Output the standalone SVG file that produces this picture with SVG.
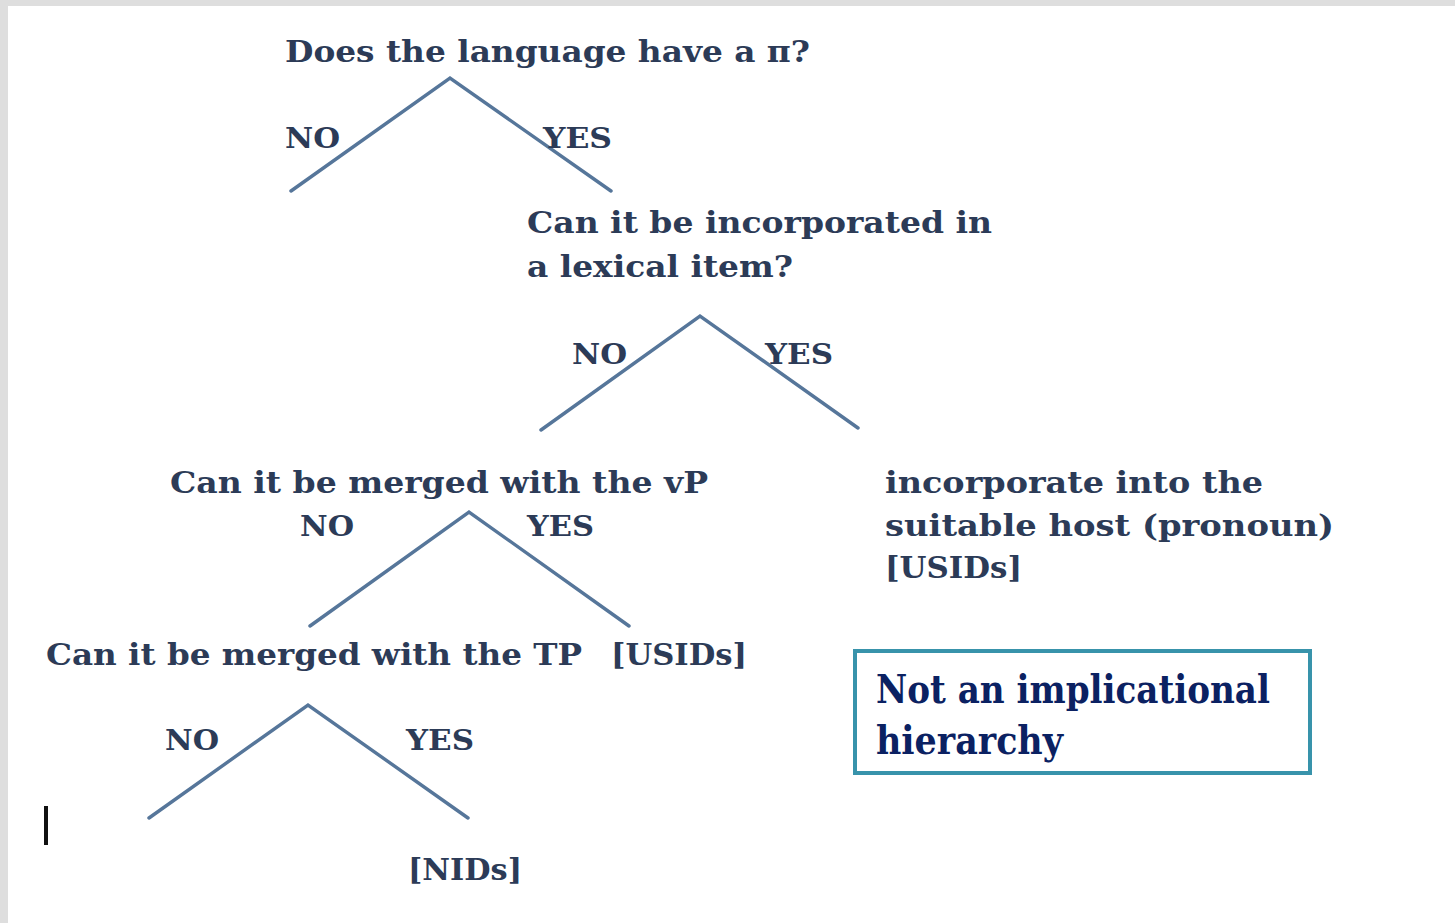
<svg xmlns="http://www.w3.org/2000/svg" width="1455" height="923" viewBox="0 0 1455 923">
  <style>
    .q { font-family: "DejaVu Serif", "Liberation Serif", serif; font-weight: bold; font-size: 29px; fill: #2c3b57; }
    .lbl { font-family: "DejaVu Serif", "Liberation Serif", serif; font-weight: bold; font-size: 28px; fill: #2c3b57; }
    .note { font-family: "DejaVu Serif", "Liberation Serif", serif; font-weight: bold; font-size: 40px; fill: #0b2162; }
    .branch { fill: none; stroke: #56769a; stroke-width: 3.4; stroke-linejoin: miter; stroke-linecap: round; }
  </style>

  <!-- page frame -->
  <rect x="0" y="0" width="1455" height="923" fill="#ffffff"/>
  <rect x="0" y="0" width="1455" height="6" fill="#dedede"/>
  <rect x="0" y="0" width="8" height="923" fill="#dedede"/>

  <!-- branching connectors -->
  <g id="connectors">
    <polyline class="branch" points="291,191 450,78 611,191"/>
    <polyline class="branch" points="541,430 700,316 858,428"/>
    <polyline class="branch" points="310,626 469,512 629,626"/>
    <polyline class="branch" points="149,818 308,705 468,818"/>
  </g>

  <g id="q-pi">
    <text class="q" x="285" y="62" textLength="525" lengthAdjust="spacingAndGlyphs">Does the language have a π?</text>
    <text class="lbl" x="285" y="148" textLength="55" lengthAdjust="spacingAndGlyphs">NO</text>
    <text class="lbl" x="543" y="148" textLength="69" lengthAdjust="spacingAndGlyphs">YES</text>
  </g>

  <g id="q-incorporate">
    <text class="q" x="527" y="233" textLength="465" lengthAdjust="spacingAndGlyphs">Can it be incorporated in</text>
    <text class="q" x="527" y="277" textLength="266" lengthAdjust="spacingAndGlyphs">a lexical item?</text>
    <text class="lbl" x="572" y="364" textLength="55" lengthAdjust="spacingAndGlyphs">NO</text>
    <text class="lbl" x="765" y="364" textLength="68" lengthAdjust="spacingAndGlyphs">YES</text>
  </g>

  <g id="q-vp">
    <text class="q" x="170" y="493" textLength="538" lengthAdjust="spacingAndGlyphs">Can it be merged with the vP</text>
    <text class="lbl" x="300" y="536" textLength="54" lengthAdjust="spacingAndGlyphs">NO</text>
    <text class="lbl" x="527" y="536" textLength="67" lengthAdjust="spacingAndGlyphs">YES</text>
  </g>

  <g id="host">
    <text class="q" x="885" y="493" textLength="378" lengthAdjust="spacingAndGlyphs">incorporate into the</text>
    <text class="q" x="885" y="536" textLength="449" lengthAdjust="spacingAndGlyphs">suitable host (pronoun)</text>
    <text class="q" x="885" y="578" textLength="137" lengthAdjust="spacingAndGlyphs">[USIDs]</text>
  </g>

  <g id="q-tp">
    <text class="q" x="46" y="665" textLength="536" lengthAdjust="spacingAndGlyphs">Can it be merged with the TP</text>
    <text class="lbl" x="165" y="750" textLength="54" lengthAdjust="spacingAndGlyphs">NO</text>
    <text class="lbl" x="406" y="750" textLength="68" lengthAdjust="spacingAndGlyphs">YES</text>
  </g>

  <g id="usids-vp">
    <text class="q" x="611" y="665" textLength="136" lengthAdjust="spacingAndGlyphs">[USIDs]</text>
  </g>

  <g id="nids">
    <text class="q" x="408" y="880" textLength="114" lengthAdjust="spacingAndGlyphs">[NIDs]</text>
  </g>

  <g id="note">
    <rect x="855" y="651" width="455" height="122" fill="#ffffff" stroke="#3893ab" stroke-width="4"/>
    <text class="note" x="876" y="703" textLength="394" lengthAdjust="spacingAndGlyphs">Not an implicational</text>
    <text class="note" x="876" y="754" textLength="187" lengthAdjust="spacingAndGlyphs">hierarchy</text>
  </g>

  <!-- text cursor -->
  <rect x="44" y="806" width="4" height="39" fill="#111111"/>
</svg>
